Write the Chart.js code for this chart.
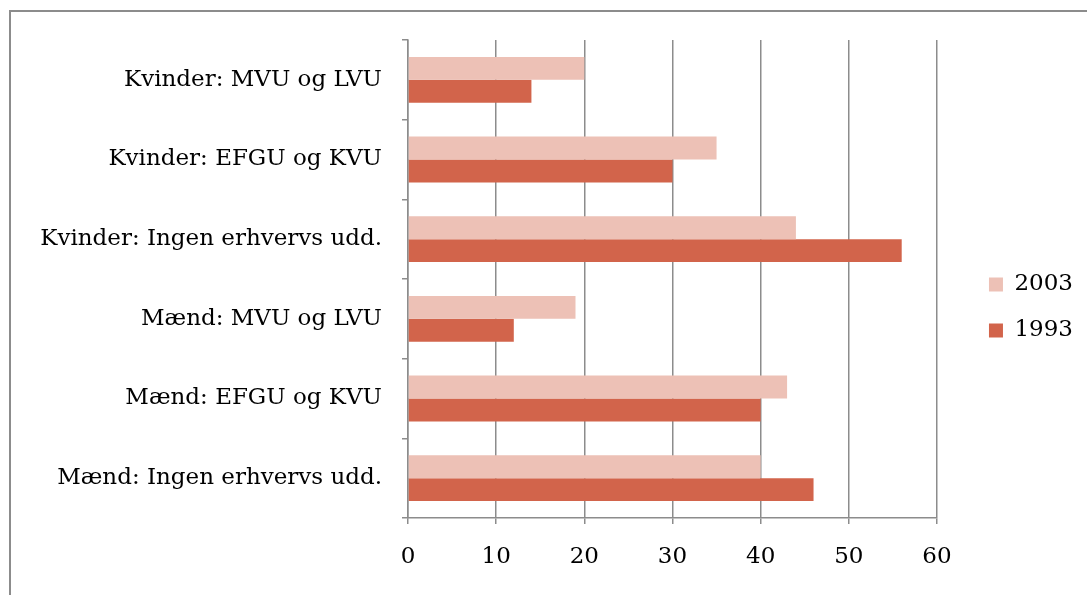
<!DOCTYPE html>
<html>
<head>
<meta charset="utf-8">
<script src="https://cdn.jsdelivr.net/npm/chart.js@4"></script>
<style>
  body { margin: 0; background: #fff; overflow: hidden; }
  #frame { position: absolute; left: 9px; top: 10px; width: 1200px; height: 700px; border: 2px solid #8c8c8c; }
  #wrap { position: absolute; left: 0; top: 0; width: 1087px; height: 595px; }
</style>
</head>
<body>
<div id="frame"></div>
<div id="wrap"><canvas id="barChart"></canvas></div>
<script>
// kategorier, fra top til bund
var labels = [
    'Kvinder: MVU og LVU',
    'Kvinder: EFGU og KVU',
    'Kvinder: Ingen erhvervs udd.',
    'Mænd: MVU og LVU',
    'Mænd: EFGU og KVU',
    'Mænd: Ingen erhvervs udd.'
];
var data2003 = [20, 35, 44, 19, 43, 40];
var data1993 = [14, 30, 56, 12, 40, 46];
var xTicks = [0, 10, 20, 30, 40, 50, 60];

var font = { family: "'DejaVu Serif', serif", size: 23 };
var gridColor = '#8c8c8c';

// flytter legenden lidt ud mod hoejre og op, som i originalen
var legendShift = {
    id: 'legendShift',
    afterLayout: function (chart) {
        var l = chart.legend;
        var dx = 29, dy = -10;
        l.left += dx; l.right += dx;
        l.top += dy; l.bottom += dy;
    }
};

var ctx = document.getElementById('barChart').getContext('2d');
var myChart = new Chart(ctx, {
    type: 'bar',
    data: {
        labels: labels,
        datasets: [{
            label: '2003',
            data: data2003,
            backgroundColor: 'rgb(237, 193, 182)',
            barPercentage: 1,
            categoryPercentage: 0.575
        }, {
            label: '1993',
            data: data1993,
            backgroundColor: 'rgb(210, 100, 75)',
            barPercentage: 1,
            categoryPercentage: 0.575
        }]
    },
    plugins: [legendShift],
    options: {
        indexAxis: 'y',
        responsive: true,
        maintainAspectRatio: false,
        animation: false,
        layout: { padding: { top: 40, left: 0, right: 33, bottom: 0 } },
        plugins: {
            legend: {
                position: 'right',
                labels: {
                    font: font,
                    color: '#000',
                    boxWidth: 14,
                    boxHeight: 14,
                    padding: 23
                }
            },
            tooltip: { enabled: false }
        },
        scales: {
            x: {
                min: 0,
                max: 60,
                afterBuildTicks: function (scale) {
                    scale.ticks = xTicks.map(function (v) { return { value: v }; });
                },
                afterFit: function (scale) { scale.height = 77; },
                grid: { color: gridColor, lineWidth: 1.5, tickLength: 6 },
                border: { color: gridColor, width: 1.5 },
                ticks: { font: font, color: '#000', padding: 19, maxRotation: 0 }
            },
            y: {
                afterFit: function (scale) { scale.width = 408; },
                grid: { drawOnChartArea: false, color: gridColor, lineWidth: 1.5, tickLength: 6 },
                border: { color: gridColor, width: 1.5 },
                ticks: { font: font, color: '#000', padding: 20 }
            }
        }
    }
});
</script>
</body>
</html>
